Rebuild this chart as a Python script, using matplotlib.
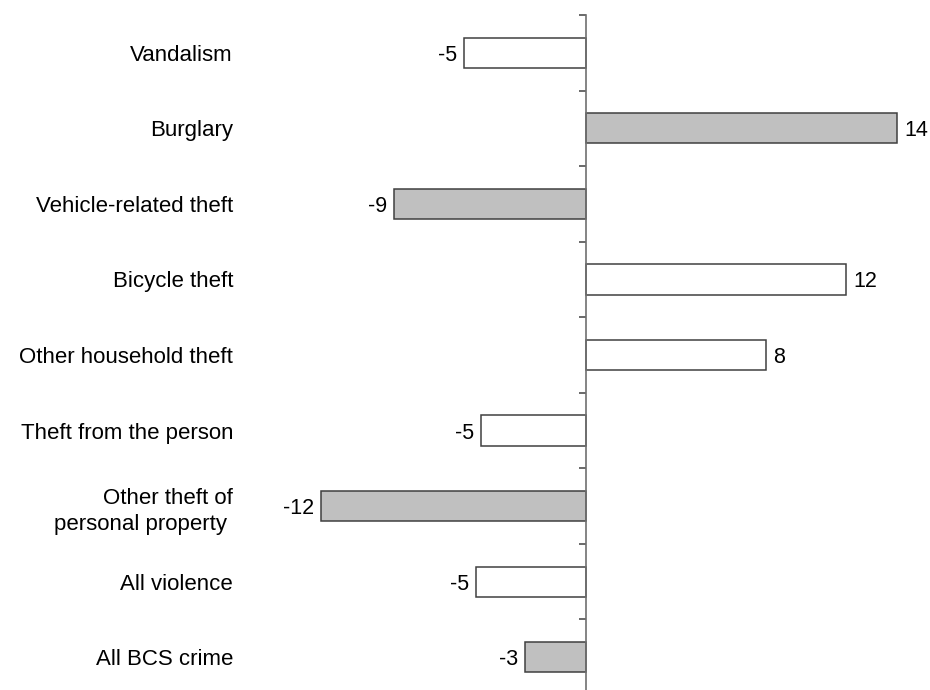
import matplotlib
matplotlib.use("Agg")
import matplotlib.pyplot as plt
from matplotlib.ticker import FixedLocator

categories = ["Vandalism", "Burglary", "Vehicle-related theft", "Bicycle theft",
              "Other household theft", "Theft from the person",
              "Other theft of\npersonal property ", "All violence", "All BCS crime"]
values = [-5.45, 14.0, -8.6, 11.7, 8.1, -4.7, -11.9, -4.9, -2.7]
significant = [False, True, True, False, False, False, True, False, True]

plt.rcParams['font.family'] = ['Liberation Sans', 'DejaVu Sans']
W, H = 930, 690
fig = plt.figure(figsize=(W / 100, H / 100), dpi=100)

# axes placement in pixels
x0_px, scale = 585.5, 22.26
xmin, xmax = -15, 15
left_px = x0_px + xmin * scale
width_px = (xmax - xmin) * scale
top_px, bot_px = 15, 695
ax = fig.add_axes([left_px / W, (H - bot_px) / H, width_px / W, (bot_px - top_px) / H])

n = len(categories)
ypos = list(range(n))
colors = ['#c0c0c0' if s else 'white' for s in significant]
ax.barh(ypos, values, height=0.4, color=colors, edgecolor='#404040', linewidth=1.1, zorder=3)

for y, v in zip(ypos, values):
    lab = format(v, '.0f')
    if v < 0:
        ax.annotate(lab, (v, y), xytext=(-5, 0), textcoords='offset points',
                    ha='right', va='center_baseline', fontsize=15.5)
    else:
        ax.annotate(lab, (v, y), xytext=(5, 0), textcoords='offset points',
                    ha='left', va='center_baseline', fontsize=15.5)

ax.set_xlim(xmin, xmax)
ax.set_ylim(n - 0.5, -0.5)

for s in ['top', 'right', 'bottom']:
    ax.spines[s].set_visible(False)
ax.spines['left'].set_position(('data', 0))
ax.spines['left'].set_color('#707070')
ax.spines['left'].set_linewidth(1.2)
ax.spines['left'].set_zorder(4)
ax.set_xticks([])

ax.yaxis.set_major_locator(FixedLocator(ypos))
ax.yaxis.set_minor_locator(FixedLocator([i - 0.5 for i in range(n + 1)]))
ax.set_yticklabels(categories, fontsize=16, linespacing=1.35)
ax.tick_params(axis='y', which='major', length=0, pad=(x0_px - 233) * 0.72)
ax.tick_params(axis='y', which='minor', length=5, width=1.2, color='#505050', direction='out')

fig.savefig('out.png', dpi=100)
